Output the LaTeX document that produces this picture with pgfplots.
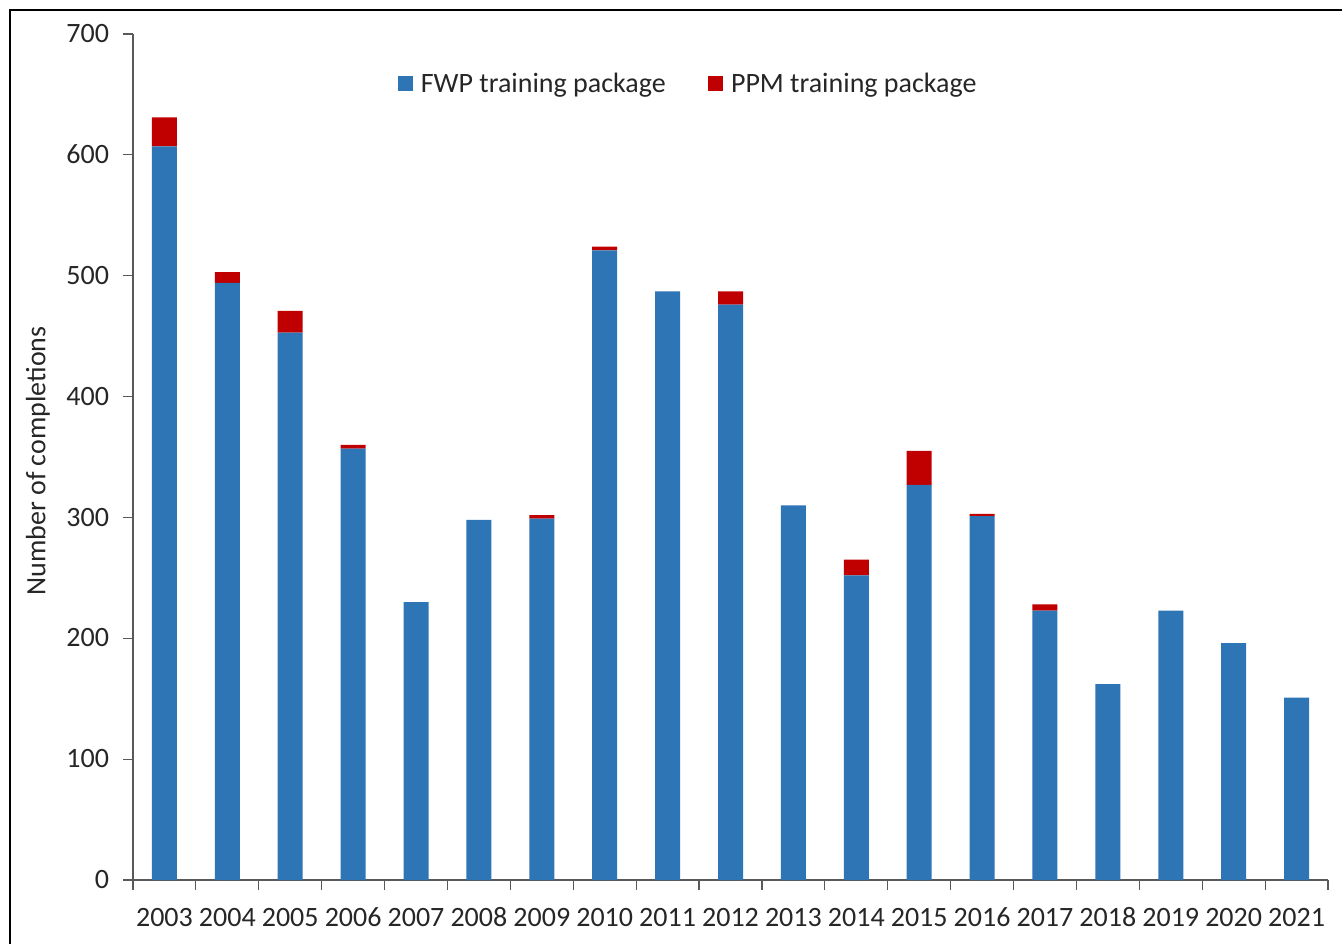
\documentclass[border=0pt]{standalone}
\usepackage{pgfplots}
\pgfplotsset{compat=1.18}
\usepackage{fontspec}
\setmainfont{Carlito}
\definecolor{fwp}{HTML}{2E75B6}
\definecolor{ppm}{HTML}{C00000}
\definecolor{axgray}{HTML}{595959}
\definecolor{txt}{HTML}{262626}
\begin{document}
\begin{tikzpicture}
\useasboundingbox (0pt,0pt) rectangle (1006.5pt,-707.25pt);
\draw[line width=1pt,black] (7.5pt,-720pt) -- (7.5pt,-7.5pt) -- (1020pt,-7.5pt);
\begin{axis}[
  at={(99.75pt,-660pt)}, anchor=south west,
  scale only axis, width=896.25pt, height=634.5pt,
  ybar stacked, bar width=18.75pt,
  xmin=-0.5, xmax=18.5, ymin=0, ymax=700,
  axis x line*=bottom, axis y line*=left,
  axis line style={-, draw=axgray, line width=0.9pt},
  every tick/.style={draw=axgray, line width=0.9pt},
  tick align=outside,
  xtick={0,...,18},
  xticklabels={2003,2004,2005,2006,2007,2008,2009,2010,2011,2012,2013,2014,2015,2016,2017,2018,2019,2020,2021},
  major x tick style={draw=none},
  minor xtick={-0.5,0.5,...,18.5},
  minor tick length=7.5pt,
  ytick={0,100,...,700},
  major tick length=7.5pt,
  tick label style={font=\fontsize{21}{25}\selectfont, text=txt},
  typeset ticklabels with strut,
  /pgf/number format/assume math mode=true,
  xticklabel style={yshift=-6pt},
  yticklabel style={xshift=-7pt, yshift=-1.5pt},
  legend columns=2,
  legend style={at={(0.465,0.941)}, anchor=center, draw=none, fill=none,
    font=\fontsize{21}{25}\selectfont, text=txt,
    /tikz/every even column/.append style={column sep=30pt}},
  legend image code/.code={\fill[#1] (0pt,-5.6pt) rectangle (11.25pt,5.6pt); \path (15pt,0pt);},
]
\addplot[fill=fwp, draw=none] coordinates {
(0,607) (1,494) (2,453) (3,357) (4,230) (5,298) (6,299) (7,521) (8,487) (9,476)
(10,310) (11,252) (12,327) (13,301) (14,223) (15,162) (16,223) (17,196) (18,151)};
\addlegendentry{FWP training package}
\addplot[fill=ppm, draw=none] coordinates {
(0,24) (1,9) (2,18) (3,3) (4,0) (5,0) (6,3) (7,3) (8,0) (9,11)
(10,0) (11,13) (12,28) (13,2) (14,5) (15,0) (16,0) (17,0) (18,0)};
\addlegendentry{PPM training package}
\end{axis}
\node[rotate=90, text=txt, font=\fontsize{21}{25}\selectfont] at (28.5pt,-345.75pt) {Number of completions};
\end{tikzpicture}
\end{document}
